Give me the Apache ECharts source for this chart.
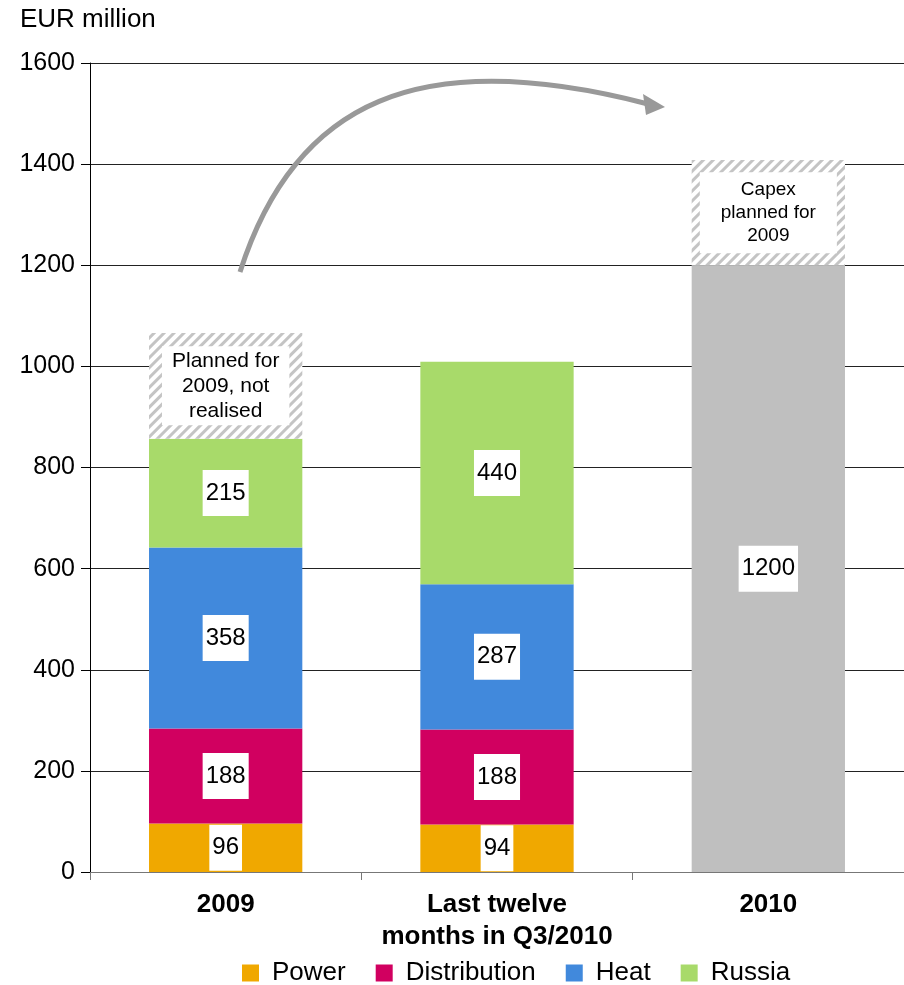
<!DOCTYPE html>
<html>
<head>
<meta charset="utf-8">
<script src="https://cdn.jsdelivr.net/npm/echarts@6/dist/echarts.min.js"></script>
<style>
  html, body { margin: 0; padding: 0; background: #fff; }
  #capex-chart { width: 904px; height: 985px; }
</style>
</head>
<body>
<div id="capex-chart"></div>
<script>
const categories = ['2009', 'Last twelve\nmonths in Q3/2010', '2010']
const power = [96, 94, '-']
const distribution = [188, 188, '-']
const heat = [358, 287, '-']
const russia = [215, 440, '-']
const plan2010 = ['-', '-', 1200]
const plannedExtra = [209, '-', 208]
const plannedText = ['Planned for\n2009, not\nrealised', '', 'Capex\nplanned for\n2009']
const yTicks = { min: 0, max: 1600, interval: 200 }

const myChart = echarts.init(document.getElementById('capex-chart'))

const valueLabel = {
  show: true,
  position: 'inside',
  color: '#000',
  fontSize: 24,
  fontFamily: 'Liberation Sans, Arial, sans-serif',
  backgroundColor: '#fff',
  padding: [11, 3, 11, 3],
}

const mkSeries = (name, data, color) => ({
  name,
  type: 'bar',
  stack: 'total',
  barWidth: '56.5%',
  data,
  itemStyle: { color },
  label: valueLabel,
})

// hatched parts, label text differs per bar
const hatchData = plannedExtra.map((v, i) => {
  if (v === '-') return v
  const big = i === 0
  return {
    value: v,
    label: {
      formatter: plannedText[i],
      fontSize: big ? 21 : 19,
      lineHeight: big ? 25 : 23,
      padding: big ? [2, 10, 2, 10] : [6, 21, 6, 21],
    },
  }
})

const option = {
  animation: false,
  textStyle: { fontFamily: 'Liberation Sans, Arial, sans-serif' },
  grid: { left: 90, right: 0, top: 63, bottom: 113 },
  legend: {
    data: ['Power', 'Distribution', 'Heat', 'Russia'],
    left: 237,
    bottom: -6,
    itemWidth: 17,
    itemHeight: 17,
    itemGap: 30,
    icon: 'rect',
    textStyle: { fontSize: 26, color: '#000', padding: [0, 0, 0, 8] },
  },
  xAxis: {
    type: 'category',
    data: categories,
    axisLine: { lineStyle: { color: '#777', width: 1 } },
    axisTick: { show: true, length: 8, lineStyle: { color: '#777' } },
    axisLabel: {
      interval: 0,
      color: '#000',
      fontSize: 26,
      fontWeight: 'bold',
      lineHeight: 32,
      margin: 17,
    },
  },
  yAxis: {
    type: 'value',
    name: 'EUR million',
    nameLocation: 'end',
    nameGap: 30,
    nameTextStyle: { fontSize: 26, color: '#000', align: 'left', padding: [0, 0, 0, -70] },
    min: yTicks.min,
    max: yTicks.max,
    interval: yTicks.interval,
    axisLine: { show: true, lineStyle: { color: '#000' } },
    axisTick: { show: true, length: 9, lineStyle: { color: '#000' } },
    axisLabel: { color: '#000', fontSize: 25, margin: 15, formatter: (v) => String(v) },
    splitLine: { lineStyle: { color: '#222', width: 1 } },
  },
  series: [
    mkSeries('Power', power, '#F0A800'),
    mkSeries('Distribution', distribution, '#D10060'),
    mkSeries('Heat', heat, '#4189DC'),
    mkSeries('Russia', russia, '#A8DA6A'),
    mkSeries('Plan 2010', plan2010, '#BFBFBF'),
    {
      name: 'Planned',
      type: 'bar',
      stack: 'total',
      barWidth: '56.5%',
      data: hatchData,
      itemStyle: {
        color: '#fff',
        decal: {
          symbol: 'rect',
          symbolSize: 1,
          color: '#c4c4c4',
          dashArrayX: [1, 0],
          dashArrayY: [3, 4],
          rotation: -Math.PI / 4,
        },
      },
      label: {
        show: true,
        position: 'inside',
        color: '#000',
        backgroundColor: '#fff',
      },
    },
  ],
  graphic: [
    {
      type: 'bezierCurve',
      z: 100,
      shape: { x1: 240, y1: 272, cpx1: 295, cpy1: 100, cpx2: 420, cpy2: 45, x2: 648, y2: 104 },
      style: { stroke: '#999', lineWidth: 5, fill: null },
    },
    {
      type: 'polygon',
      z: 100,
      shape: { points: [[643, 94], [665, 107], [646, 115]] },
      style: { fill: '#999' },
    },
  ],
}

myChart.setOption(option)
</script>
</body>
</html>
